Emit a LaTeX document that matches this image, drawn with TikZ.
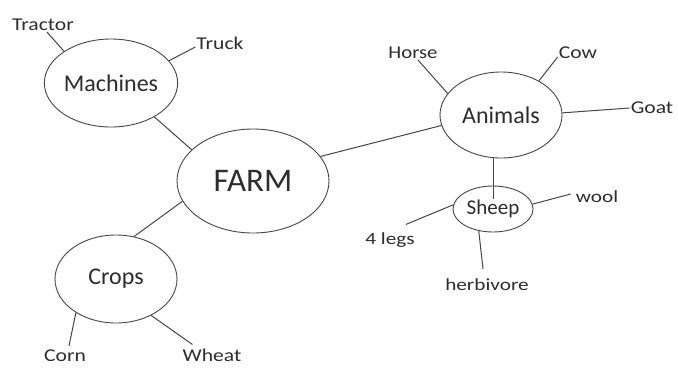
\documentclass[tikz,border=0pt]{standalone}
\usepackage{fontspec}
\setmainfont{Carlito}
\usetikzlibrary{shapes.geometric}
\definecolor{ink}{RGB}{45,45,45}
\definecolor{edge}{RGB}{70,70,70}
\newcommand\widetxt[2][1.2]{\scalebox{#1}[1]{#2}}
\begin{document}
\begin{tikzpicture}[x=1pt,y=-1pt,
  oval/.style={ellipse,draw=edge,line width=0.9pt,inner sep=0pt,text=ink},
  leaf/.style={inner sep=1pt,text=ink,font=\fontsize{18}{18}\selectfont},
  small/.style={inner sep=1pt,text=ink,font=\fontsize{17}{17}\selectfont},
  link/.style={draw=edge,line width=1pt}]
\useasboundingbox[fill=white] (0,0) rectangle (678,368);
% main ellipses
\node[oval,minimum width=152pt,minimum height=104pt,font=\fontsize{33}{33}\selectfont] (farm) at (253,181) {FARM};
\node[oval,minimum width=124pt,minimum height=88pt,font=\fontsize{24}{24}\selectfont] (machines) at (111,83) {Machines};
\node[oval,minimum width=122pt,minimum height=88pt,font=\fontsize{24}{24}\selectfont] (crops) at (116,279) {Crops\hspace{30pt}};
\node[oval,minimum width=122pt,minimum height=86pt,font=\fontsize{24}{24}\selectfont] (animals) at (501,115) {Animals};
\node[oval,minimum width=80pt,minimum height=46pt,font=\fontsize{21}{21}\selectfont] (sheep) at (493,209) {Sheep};
% leaves
\node[leaf] (tractor) at (43,25) {\widetxt{Tractor}};
\node[leaf] (truck) at (220,43) {\widetxt{Truck}};
\node[leaf] (corn) at (65,356) {\widetxt{Corn}};
\node[leaf] (wheat) at (212,355) {\widetxt{Wheat}};
\node[leaf] (horse) at (413,53) {\widetxt[1.15]{Horse}};
\node[leaf] (cow) at (578,53) {\widetxt{Cow}};
\node[leaf] (goat) at (652,108) {\widetxt{Goat}};
\node[small] (wool) at (597,197) {\widetxt[1.25]{wool}};
\node[small] (legs) at (390,240) {\widetxt[1.25]{4 legs}};
\node[small] (herb) at (487,285) {\widetxt[1.25]{herbivore}};
% connectors
\draw[link] (machines.146) -- ([xshift=4pt]tractor.south);
\draw[link] (machines.21) -- ([yshift=-4pt]truck.west);
\draw[link] (machines.-38) -- (farm.153);
\draw[link] (farm.196) -- (crops.67);
\draw[link] (farm.20) -- (animals.190);
\draw[link] (crops.220) -- ([xshift=4pt,yshift=3pt]corn.north);
\draw[link] (crops.-46) -- ([xshift=11pt,yshift=3pt]wheat.north west);
\draw[link] (animals.158) -- ([xshift=5pt]horse.south);
\draw[link] (animals.42) -- ([yshift=-4pt]cow.west);
\draw[link] (animals.2) -- (goat.west);
\draw[link] ([xshift=-8pt]animals.south) -- ([yshift=-13pt]sheep.north);
\draw[link] (sheep.7) -- ([xshift=-4pt,yshift=3pt]wool.west);
\draw[link] (sheep.174) -- ([xshift=-10pt,yshift=7pt]legs.north east);
\draw[link] (sheep.-123) -- ([xshift=-4pt,yshift=9pt]herb.north);
\end{tikzpicture}
\end{document}
